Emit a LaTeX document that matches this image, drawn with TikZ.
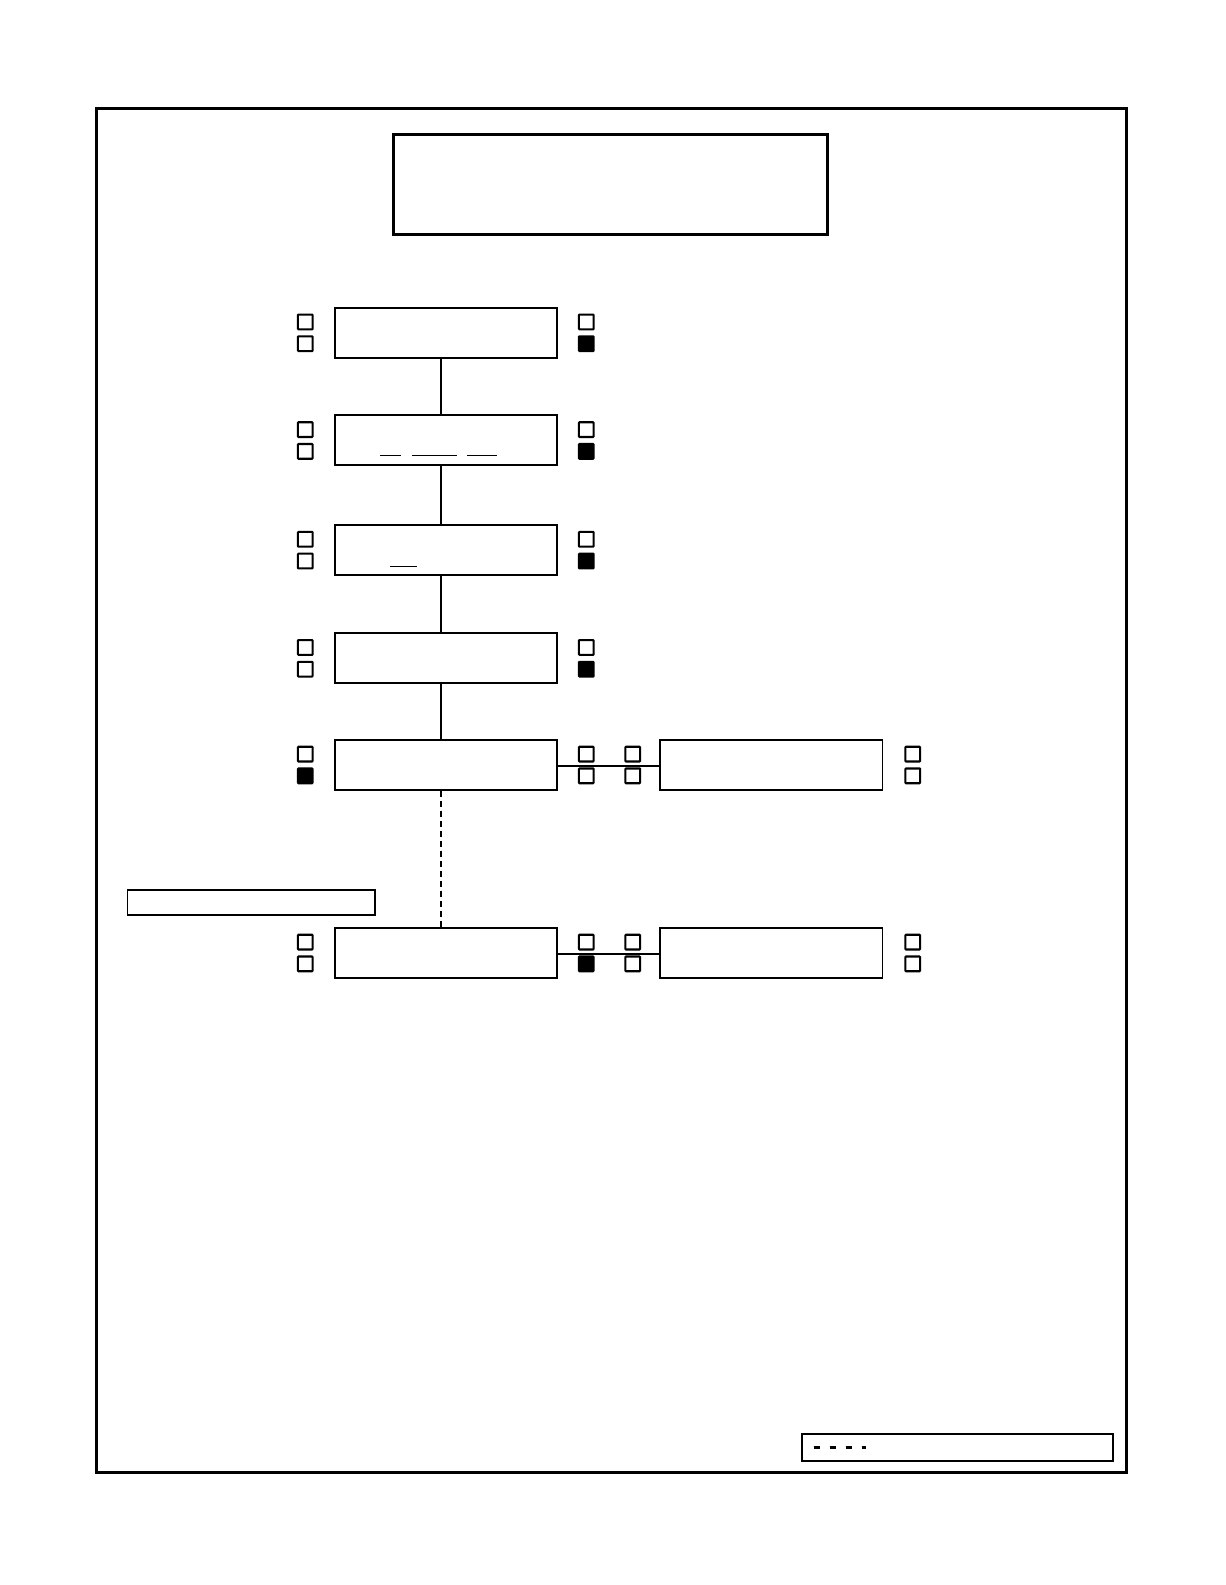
\documentclass[tikz,border=0pt]{standalone}
\usetikzlibrary{positioning}
\begin{document}
\begin{tikzpicture}[
  x=0.20221mm, y=-0.20221mm,
  frame/.style={draw,line width=1.7pt},
  stage/.style={draw,line width=1.1pt,minimum width=44.5mm,minimum height=10mm,inner sep=0pt},
  tick/.style={draw,line width=1.2pt,rounded corners=.4pt,minimum size=2.95mm,inner sep=0pt},
  tickon/.style={tick,fill=black},
  link/.style={line width=1.1pt},
  blank/.style={line width=.6pt}
]
  \useasboundingbox (0,0) rectangle (1212,1568);
  \draw[frame] (95,107) rectangle (1114,1457);
  \node[frame,minimum width=86.9mm,minimum height=20mm,inner sep=0pt] (title) at (604,182.5) {};

  % main column of stages with their status squares
  \foreach \n/\yc/\ll/\lr in {1/329/tick/tickon,2/435.5/tick/tickon,3/544/tick/tickon,
                               4/651/tick/tickon,5/756.5/tickon/tick,6/942.5/tick/tickon} {
    \node[stage] (b\n) at (441,\yc) {};
    \node[tick] (lu\n) at (302,\yc-10.5) {};
    \node[\ll] (ll\n) at (302,\yc+11) {};
    \node[tick] (ru\n) at (580,\yc-10.5) {};
    \node[\lr] (rl\n) at (580,\yc+11) {};
  }

  % side stages
  \foreach \n in {5,6} {
    \node[stage] (s\n) at (763,0 |- b\n) {};
    \node[tick] (su\n) at (626,0 |- ru\n) {};
    \node[tick] (sl\n) at (626,0 |- rl\n) {};
    \node[tick] (fu\n) at (903,0 |- ru\n) {};
    \node[tick] (fl\n) at (903,0 |- rl\n) {};
    \draw[link] ([yshift=-.3mm]b\n.east) -- ([yshift=-.3mm]s\n.west);
  }

  \foreach \a/\b in {1/2,2/3,3/4,4/5}
    \draw[link] ([xshift=-1mm]b\a.south) -- ([xshift=-1mm]b\b.north);
  \draw[link,dash pattern=on 1.2mm off 0.8mm]
    ([xshift=-1mm]b5.south) -- ([xshift=-1mm]b6.north);

  % blanks
  \draw[blank] (376,451) -- (397,451);
  \draw[blank] (408,451) -- (452,451);
  \draw[blank] (462,451) -- (492,451);
  \draw[blank] (386,560) -- (413,560);

  \node[draw,line width=1.1pt,minimum width=49.5mm,minimum height=5mm,inner sep=0pt] (note) at (248.5,892.5) {};
  \node[draw,line width=1.1pt,minimum width=62.3mm,minimum height=5.4mm,inner sep=0pt] (legend) at (947,1431.5) {};
  \draw[line width=1.7pt,dash pattern=on 1.3mm off 1.9mm]
    ([xshift=2.6mm]legend.west) -- ++(52,0);
\end{tikzpicture}
\end{document}
